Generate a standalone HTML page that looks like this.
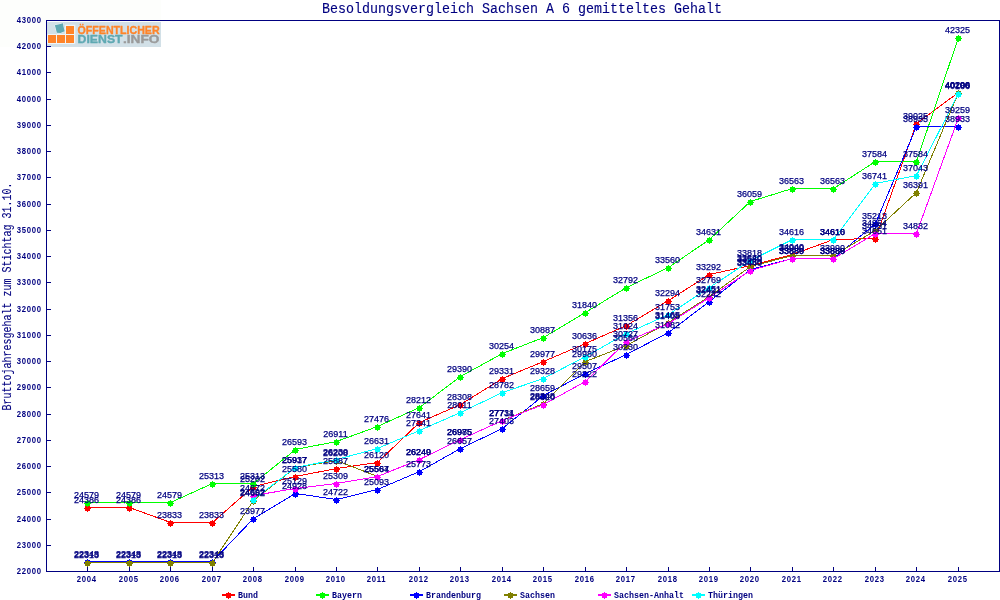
<!DOCTYPE html>
<html lang="de"><head><meta charset="utf-8"><title>Besoldungsvergleich Sachsen A 6 gemitteltes Gehalt</title>
<style>
html,body{margin:0;padding:0;background:#fff;}
body{width:1000px;height:600px;overflow:hidden;}
svg{display:block;}
.m{font-family:"Liberation Mono","DejaVu Sans Mono",monospace;fill:#000080;stroke:#000080;stroke-width:0.25px;}
.n{font-family:"Liberation Sans",sans-serif;fill:#000080;font-size:9px;stroke:#000080;stroke-width:0.25px;}
.nb{font-family:"Liberation Sans",sans-serif;fill:#000080;font-size:9px;font-weight:bold;}
.b{font-size:8.33px;font-weight:bold;stroke:none;}
.t{font-size:13.33px;stroke-width:0.1px;}
.y{font-size:10px;stroke-width:0.1px;}
.lg{font-family:"Liberation Sans",sans-serif;font-weight:bold;}
</style></head><body>
<svg width="1000" height="600" viewBox="0 0 1000 600">
<rect x="0" y="0" width="1000" height="600" fill="#ffffff"/>
<rect x="0" y="0" width="161" height="47" fill="#fdfefc"/>
<g id="logo">
<rect x="47" y="22" width="114" height="25" fill="#d2e0e7"/>
<path d="M47.5 34.5h27.2v-9.2h-9.2v9.2M47.5 43.5h27.2M56.5 34.5v9M65.5 34.5v9M47.6 34.5v9M74.6 25.5v18" fill="none" stroke="#eef5f8" stroke-width="1.2"/>
<rect x="48" y="35" width="8" height="8" fill="#ff8429"/>
<rect x="57" y="35" width="8" height="8" fill="#ff8429"/>
<rect x="66" y="35" width="8" height="8" fill="#ff8429"/>
<rect x="66" y="26" width="8" height="8" fill="#ff8429"/>
<path d="M54.8 25.3 L59.3 24.3 L62.9 23.2 L63.6 27 L64.7 31.2 L60.4 33 L56.8 32.8 L55.8 28.6 Z" fill="#5fa9b3" stroke="#f4f9fa" stroke-width="0.8" stroke-linejoin="round" paint-order="stroke"/>
<g class="lg" stroke-width="0.35" stroke-linejoin="round">
<text x="77.6" y="33.8" font-size="11.4" fill="#ff8429" stroke="#ff8429" textLength="82" lengthAdjust="spacingAndGlyphs">ÖFFENTLICHER</text>
<text x="77.6" y="42.8" font-size="10.8" fill="#5fa9b3" stroke="#5fa9b3" textLength="45" lengthAdjust="spacingAndGlyphs">DIENST</text>
<text x="123" y="42.8" font-size="10.8" fill="#9a9a9a" stroke="#9a9a9a" textLength="36.5" lengthAdjust="spacingAndGlyphs">.INFO</text>
</g>
</g>
<text class="m t" transform="translate(522,12.6) scale(1,1.12)" x="0" y="0" text-anchor="middle" textLength="400" lengthAdjust="spacing">Besoldungsvergleich Sachsen A 6 gemitteltes Gehalt</text>
<text class="m y" transform="translate(11,410.5) rotate(-90) scale(1,1.2)" textLength="228" lengthAdjust="spacing">Bruttojahresgehalt zum Stichtag 31.10.</text>
<g shape-rendering="crispEdges" fill="#000080">
<rect x="46" y="20" width="1" height="552"/>
<rect x="46" y="20" width="954" height="1"/>
<rect x="999" y="20" width="1" height="552"/>
<rect x="46" y="571" width="954" height="1"/>
<rect x="47" y="571" width="4" height="1"/>
<rect x="47" y="545" width="4" height="1"/>
<rect x="47" y="519" width="4" height="1"/>
<rect x="47" y="492" width="4" height="1"/>
<rect x="47" y="466" width="4" height="1"/>
<rect x="47" y="440" width="4" height="1"/>
<rect x="47" y="414" width="4" height="1"/>
<rect x="47" y="387" width="4" height="1"/>
<rect x="47" y="361" width="4" height="1"/>
<rect x="47" y="335" width="4" height="1"/>
<rect x="47" y="309" width="4" height="1"/>
<rect x="47" y="282" width="4" height="1"/>
<rect x="47" y="256" width="4" height="1"/>
<rect x="47" y="230" width="4" height="1"/>
<rect x="47" y="204" width="4" height="1"/>
<rect x="47" y="177" width="4" height="1"/>
<rect x="47" y="151" width="4" height="1"/>
<rect x="47" y="125" width="4" height="1"/>
<rect x="47" y="99" width="4" height="1"/>
<rect x="47" y="72" width="4" height="1"/>
<rect x="47" y="46" width="4" height="1"/>
<rect x="47" y="20" width="4" height="1"/>
<rect x="87" y="567" width="1" height="4"/>
<rect x="129" y="567" width="1" height="4"/>
<rect x="170" y="567" width="1" height="4"/>
<rect x="212" y="567" width="1" height="4"/>
<rect x="253" y="567" width="1" height="4"/>
<rect x="295" y="567" width="1" height="4"/>
<rect x="336" y="567" width="1" height="4"/>
<rect x="377" y="567" width="1" height="4"/>
<rect x="419" y="567" width="1" height="4"/>
<rect x="460" y="567" width="1" height="4"/>
<rect x="502" y="567" width="1" height="4"/>
<rect x="543" y="567" width="1" height="4"/>
<rect x="585" y="567" width="1" height="4"/>
<rect x="626" y="567" width="1" height="4"/>
<rect x="668" y="567" width="1" height="4"/>
<rect x="709" y="567" width="1" height="4"/>
<rect x="750" y="567" width="1" height="4"/>
<rect x="792" y="567" width="1" height="4"/>
<rect x="833" y="567" width="1" height="4"/>
<rect x="875" y="567" width="1" height="4"/>
<rect x="916" y="567" width="1" height="4"/>
<rect x="958" y="567" width="1" height="4"/>
</g>
<text class="nb" transform="translate(16.8,574) scale(0.86,1)" letter-spacing="0.81">22000</text>
<text class="nb" transform="translate(16.8,548) scale(0.86,1)" letter-spacing="0.81">23000</text>
<text class="nb" transform="translate(16.8,522) scale(0.86,1)" letter-spacing="0.81">24000</text>
<text class="nb" transform="translate(16.8,495) scale(0.86,1)" letter-spacing="0.81">25000</text>
<text class="nb" transform="translate(16.8,469) scale(0.86,1)" letter-spacing="0.81">26000</text>
<text class="nb" transform="translate(16.8,443) scale(0.86,1)" letter-spacing="0.81">27000</text>
<text class="nb" transform="translate(16.8,417) scale(0.86,1)" letter-spacing="0.81">28000</text>
<text class="nb" transform="translate(16.8,390) scale(0.86,1)" letter-spacing="0.81">29000</text>
<text class="nb" transform="translate(16.8,364) scale(0.86,1)" letter-spacing="0.81">30000</text>
<text class="nb" transform="translate(16.8,338) scale(0.86,1)" letter-spacing="0.81">31000</text>
<text class="nb" transform="translate(16.8,312) scale(0.86,1)" letter-spacing="0.81">32000</text>
<text class="nb" transform="translate(16.8,285) scale(0.86,1)" letter-spacing="0.81">33000</text>
<text class="nb" transform="translate(16.8,259) scale(0.86,1)" letter-spacing="0.81">34000</text>
<text class="nb" transform="translate(16.8,233) scale(0.86,1)" letter-spacing="0.81">35000</text>
<text class="nb" transform="translate(16.8,207) scale(0.86,1)" letter-spacing="0.81">36000</text>
<text class="nb" transform="translate(16.8,180) scale(0.86,1)" letter-spacing="0.81">37000</text>
<text class="nb" transform="translate(16.8,154) scale(0.86,1)" letter-spacing="0.81">38000</text>
<text class="nb" transform="translate(16.8,128) scale(0.86,1)" letter-spacing="0.81">39000</text>
<text class="nb" transform="translate(16.8,102) scale(0.86,1)" letter-spacing="0.81">40000</text>
<text class="nb" transform="translate(16.8,75) scale(0.86,1)" letter-spacing="0.81">41000</text>
<text class="nb" transform="translate(16.8,49) scale(0.86,1)" letter-spacing="0.81">42000</text>
<text class="nb" transform="translate(16.8,23) scale(0.86,1)" letter-spacing="0.81">43000</text>
<text class="nb" transform="translate(76.8,582) scale(0.86,1)" letter-spacing="0.81">2004</text>
<text class="nb" transform="translate(118.8,582) scale(0.86,1)" letter-spacing="0.81">2005</text>
<text class="nb" transform="translate(159.8,582) scale(0.86,1)" letter-spacing="0.81">2006</text>
<text class="nb" transform="translate(201.8,582) scale(0.86,1)" letter-spacing="0.81">2007</text>
<text class="nb" transform="translate(242.8,582) scale(0.86,1)" letter-spacing="0.81">2008</text>
<text class="nb" transform="translate(284.8,582) scale(0.86,1)" letter-spacing="0.81">2009</text>
<text class="nb" transform="translate(325.8,582) scale(0.86,1)" letter-spacing="0.81">2010</text>
<text class="nb" transform="translate(366.8,582) scale(0.86,1)" letter-spacing="0.81">2011</text>
<text class="nb" transform="translate(408.8,582) scale(0.86,1)" letter-spacing="0.81">2012</text>
<text class="nb" transform="translate(449.8,582) scale(0.86,1)" letter-spacing="0.81">2013</text>
<text class="nb" transform="translate(491.8,582) scale(0.86,1)" letter-spacing="0.81">2014</text>
<text class="nb" transform="translate(532.8,582) scale(0.86,1)" letter-spacing="0.81">2015</text>
<text class="nb" transform="translate(574.8,582) scale(0.86,1)" letter-spacing="0.81">2016</text>
<text class="nb" transform="translate(615.8,582) scale(0.86,1)" letter-spacing="0.81">2017</text>
<text class="nb" transform="translate(657.8,582) scale(0.86,1)" letter-spacing="0.81">2018</text>
<text class="nb" transform="translate(698.8,582) scale(0.86,1)" letter-spacing="0.81">2019</text>
<text class="nb" transform="translate(739.8,582) scale(0.86,1)" letter-spacing="0.81">2020</text>
<text class="nb" transform="translate(781.8,582) scale(0.86,1)" letter-spacing="0.81">2021</text>
<text class="nb" transform="translate(822.8,582) scale(0.86,1)" letter-spacing="0.81">2022</text>
<text class="nb" transform="translate(864.8,582) scale(0.86,1)" letter-spacing="0.81">2023</text>
<text class="nb" transform="translate(905.8,582) scale(0.86,1)" letter-spacing="0.81">2024</text>
<text class="nb" transform="translate(947.8,582) scale(0.86,1)" letter-spacing="0.81">2025</text>
<polyline fill="none" stroke="#ff0000" stroke-width="1" shape-rendering="crispEdges" points="87.5,507.5 129.5,507.5 170.5,522.5 212.5,522.5 253.5,486.5 295.5,476.5 336.5,468.5 377.5,462.5 419.5,422.5 460.5,404.5 502.5,378.5 543.5,361.5 585.5,343.5 626.5,325.5 668.5,300.5 709.5,274.5 750.5,265.5 792.5,254.5 833.5,239.5 875.5,238.5 916.5,123.5 958.5,92.5"/>
<g fill="#ff0000" shape-rendering="crispEdges">
<path d="M85 506h5v5h-5zM84 508h7v1h-7zM87 505h1v7h-1z"/>
<path d="M127 506h5v5h-5zM126 508h7v1h-7zM129 505h1v7h-1z"/>
<path d="M168 521h5v5h-5zM167 523h7v1h-7zM170 520h1v7h-1z"/>
<path d="M210 521h5v5h-5zM209 523h7v1h-7zM212 520h1v7h-1z"/>
<path d="M251 485h5v5h-5zM250 487h7v1h-7zM253 484h1v7h-1z"/>
<path d="M293 475h5v5h-5zM292 477h7v1h-7zM295 474h1v7h-1z"/>
<path d="M334 467h5v5h-5zM333 469h7v1h-7zM336 466h1v7h-1z"/>
<path d="M375 461h5v5h-5zM374 463h7v1h-7zM377 460h1v7h-1z"/>
<path d="M417 421h5v5h-5zM416 423h7v1h-7zM419 420h1v7h-1z"/>
<path d="M458 403h5v5h-5zM457 405h7v1h-7zM460 402h1v7h-1z"/>
<path d="M500 377h5v5h-5zM499 379h7v1h-7zM502 376h1v7h-1z"/>
<path d="M541 360h5v5h-5zM540 362h7v1h-7zM543 359h1v7h-1z"/>
<path d="M583 342h5v5h-5zM582 344h7v1h-7zM585 341h1v7h-1z"/>
<path d="M624 324h5v5h-5zM623 326h7v1h-7zM626 323h1v7h-1z"/>
<path d="M666 299h5v5h-5zM665 301h7v1h-7zM668 298h1v7h-1z"/>
<path d="M707 273h5v5h-5zM706 275h7v1h-7zM709 272h1v7h-1z"/>
<path d="M748 264h5v5h-5zM747 266h7v1h-7zM750 263h1v7h-1z"/>
<path d="M790 253h5v5h-5zM789 255h7v1h-7zM792 252h1v7h-1z"/>
<path d="M831 238h5v5h-5zM830 240h7v1h-7zM833 237h1v7h-1z"/>
<path d="M873 237h5v5h-5zM872 239h7v1h-7zM875 236h1v7h-1z"/>
<path d="M914 122h5v5h-5zM913 124h7v1h-7zM916 121h1v7h-1z"/>
<path d="M956 91h5v5h-5zM955 93h7v1h-7zM958 90h1v7h-1z"/>
</g>
<polyline fill="none" stroke="#00ff00" stroke-width="1" shape-rendering="crispEdges" points="87.5,502.5 129.5,502.5 170.5,502.5 212.5,483.5 253.5,483.5 295.5,449.5 336.5,441.5 377.5,426.5 419.5,407.5 460.5,376.5 502.5,353.5 543.5,337.5 585.5,312.5 626.5,287.5 668.5,267.5 709.5,239.5 750.5,201.5 792.5,188.5 833.5,188.5 875.5,161.5 916.5,161.5 958.5,37.5"/>
<g fill="#00ff00" shape-rendering="crispEdges">
<path d="M85 501h5v5h-5zM84 503h7v1h-7zM87 500h1v7h-1z"/>
<path d="M127 501h5v5h-5zM126 503h7v1h-7zM129 500h1v7h-1z"/>
<path d="M168 501h5v5h-5zM167 503h7v1h-7zM170 500h1v7h-1z"/>
<path d="M210 482h5v5h-5zM209 484h7v1h-7zM212 481h1v7h-1z"/>
<path d="M251 482h5v5h-5zM250 484h7v1h-7zM253 481h1v7h-1z"/>
<path d="M293 448h5v5h-5zM292 450h7v1h-7zM295 447h1v7h-1z"/>
<path d="M334 440h5v5h-5zM333 442h7v1h-7zM336 439h1v7h-1z"/>
<path d="M375 425h5v5h-5zM374 427h7v1h-7zM377 424h1v7h-1z"/>
<path d="M417 406h5v5h-5zM416 408h7v1h-7zM419 405h1v7h-1z"/>
<path d="M458 375h5v5h-5zM457 377h7v1h-7zM460 374h1v7h-1z"/>
<path d="M500 352h5v5h-5zM499 354h7v1h-7zM502 351h1v7h-1z"/>
<path d="M541 336h5v5h-5zM540 338h7v1h-7zM543 335h1v7h-1z"/>
<path d="M583 311h5v5h-5zM582 313h7v1h-7zM585 310h1v7h-1z"/>
<path d="M624 286h5v5h-5zM623 288h7v1h-7zM626 285h1v7h-1z"/>
<path d="M666 266h5v5h-5zM665 268h7v1h-7zM668 265h1v7h-1z"/>
<path d="M707 238h5v5h-5zM706 240h7v1h-7zM709 237h1v7h-1z"/>
<path d="M748 200h5v5h-5zM747 202h7v1h-7zM750 199h1v7h-1z"/>
<path d="M790 187h5v5h-5zM789 189h7v1h-7zM792 186h1v7h-1z"/>
<path d="M831 187h5v5h-5zM830 189h7v1h-7zM833 186h1v7h-1z"/>
<path d="M873 160h5v5h-5zM872 162h7v1h-7zM875 159h1v7h-1z"/>
<path d="M914 160h5v5h-5zM913 162h7v1h-7zM916 159h1v7h-1z"/>
<path d="M956 36h5v5h-5zM955 38h7v1h-7zM958 35h1v7h-1z"/>
</g>
<polyline fill="none" stroke="#0000ff" stroke-width="1" shape-rendering="crispEdges" points="87.5,561.5 129.5,561.5 170.5,561.5 212.5,561.5 253.5,518.5 295.5,493.5 336.5,499.5 377.5,489.5 419.5,471.5 460.5,448.5 502.5,428.5 543.5,395.5 585.5,373.5 626.5,354.5 668.5,332.5 709.5,301.5 750.5,269.5 792.5,258.5 833.5,258.5 875.5,223.5 916.5,126.5 958.5,126.5"/>
<g fill="#0000ff" shape-rendering="crispEdges">
<path d="M85 560h5v5h-5zM84 562h7v1h-7zM87 559h1v7h-1z"/>
<path d="M127 560h5v5h-5zM126 562h7v1h-7zM129 559h1v7h-1z"/>
<path d="M168 560h5v5h-5zM167 562h7v1h-7zM170 559h1v7h-1z"/>
<path d="M210 560h5v5h-5zM209 562h7v1h-7zM212 559h1v7h-1z"/>
<path d="M251 517h5v5h-5zM250 519h7v1h-7zM253 516h1v7h-1z"/>
<path d="M293 492h5v5h-5zM292 494h7v1h-7zM295 491h1v7h-1z"/>
<path d="M334 498h5v5h-5zM333 500h7v1h-7zM336 497h1v7h-1z"/>
<path d="M375 488h5v5h-5zM374 490h7v1h-7zM377 487h1v7h-1z"/>
<path d="M417 470h5v5h-5zM416 472h7v1h-7zM419 469h1v7h-1z"/>
<path d="M458 447h5v5h-5zM457 449h7v1h-7zM460 446h1v7h-1z"/>
<path d="M500 427h5v5h-5zM499 429h7v1h-7zM502 426h1v7h-1z"/>
<path d="M541 394h5v5h-5zM540 396h7v1h-7zM543 393h1v7h-1z"/>
<path d="M583 372h5v5h-5zM582 374h7v1h-7zM585 371h1v7h-1z"/>
<path d="M624 353h5v5h-5zM623 355h7v1h-7zM626 352h1v7h-1z"/>
<path d="M666 331h5v5h-5zM665 333h7v1h-7zM668 330h1v7h-1z"/>
<path d="M707 300h5v5h-5zM706 302h7v1h-7zM709 299h1v7h-1z"/>
<path d="M748 268h5v5h-5zM747 270h7v1h-7zM750 267h1v7h-1z"/>
<path d="M790 257h5v5h-5zM789 259h7v1h-7zM792 256h1v7h-1z"/>
<path d="M831 257h5v5h-5zM830 259h7v1h-7zM833 256h1v7h-1z"/>
<path d="M873 222h5v5h-5zM872 224h7v1h-7zM875 221h1v7h-1z"/>
<path d="M914 125h5v5h-5zM913 127h7v1h-7zM916 124h1v7h-1z"/>
<path d="M956 125h5v5h-5zM955 127h7v1h-7zM958 124h1v7h-1z"/>
</g>
<polyline fill="none" stroke="#808000" stroke-width="1" shape-rendering="crispEdges" points="87.5,562.5 129.5,562.5 170.5,562.5 212.5,562.5 253.5,500.5 295.5,467.5 336.5,460.5 377.5,476.5 419.5,459.5 460.5,439.5 502.5,420.5 543.5,403.5 585.5,361.5 626.5,345.5 668.5,322.5 709.5,296.5 750.5,266.5 792.5,255.5 833.5,255.5 875.5,230.5 916.5,192.5 958.5,92.5"/>
<g fill="#808000" shape-rendering="crispEdges">
<path d="M85 561h5v5h-5zM84 563h7v1h-7zM87 560h1v7h-1z"/>
<path d="M127 561h5v5h-5zM126 563h7v1h-7zM129 560h1v7h-1z"/>
<path d="M168 561h5v5h-5zM167 563h7v1h-7zM170 560h1v7h-1z"/>
<path d="M210 561h5v5h-5zM209 563h7v1h-7zM212 560h1v7h-1z"/>
<path d="M251 499h5v5h-5zM250 501h7v1h-7zM253 498h1v7h-1z"/>
<path d="M293 466h5v5h-5zM292 468h7v1h-7zM295 465h1v7h-1z"/>
<path d="M334 459h5v5h-5zM333 461h7v1h-7zM336 458h1v7h-1z"/>
<path d="M375 475h5v5h-5zM374 477h7v1h-7zM377 474h1v7h-1z"/>
<path d="M417 458h5v5h-5zM416 460h7v1h-7zM419 457h1v7h-1z"/>
<path d="M458 438h5v5h-5zM457 440h7v1h-7zM460 437h1v7h-1z"/>
<path d="M500 419h5v5h-5zM499 421h7v1h-7zM502 418h1v7h-1z"/>
<path d="M541 402h5v5h-5zM540 404h7v1h-7zM543 401h1v7h-1z"/>
<path d="M583 360h5v5h-5zM582 362h7v1h-7zM585 359h1v7h-1z"/>
<path d="M624 344h5v5h-5zM623 346h7v1h-7zM626 343h1v7h-1z"/>
<path d="M666 321h5v5h-5zM665 323h7v1h-7zM668 320h1v7h-1z"/>
<path d="M707 295h5v5h-5zM706 297h7v1h-7zM709 294h1v7h-1z"/>
<path d="M748 265h5v5h-5zM747 267h7v1h-7zM750 264h1v7h-1z"/>
<path d="M790 254h5v5h-5zM789 256h7v1h-7zM792 253h1v7h-1z"/>
<path d="M831 254h5v5h-5zM830 256h7v1h-7zM833 253h1v7h-1z"/>
<path d="M873 229h5v5h-5zM872 231h7v1h-7zM875 228h1v7h-1z"/>
<path d="M914 191h5v5h-5zM913 193h7v1h-7zM916 190h1v7h-1z"/>
<path d="M956 91h5v5h-5zM955 93h7v1h-7zM958 90h1v7h-1z"/>
</g>
<polyline fill="none" stroke="#ff00ff" stroke-width="1" shape-rendering="crispEdges" points="253.5,495.5 295.5,488.5 336.5,483.5 377.5,476.5 419.5,459.5 460.5,439.5 502.5,420.5 543.5,404.5 585.5,381.5 626.5,341.5 668.5,323.5 709.5,297.5 750.5,270.5 792.5,258.5 833.5,258.5 875.5,233.5 916.5,233.5 958.5,117.5"/>
<g fill="#ff00ff" shape-rendering="crispEdges">
<path d="M251 494h5v5h-5zM250 496h7v1h-7zM253 493h1v7h-1z"/>
<path d="M293 487h5v5h-5zM292 489h7v1h-7zM295 486h1v7h-1z"/>
<path d="M334 482h5v5h-5zM333 484h7v1h-7zM336 481h1v7h-1z"/>
<path d="M375 475h5v5h-5zM374 477h7v1h-7zM377 474h1v7h-1z"/>
<path d="M417 458h5v5h-5zM416 460h7v1h-7zM419 457h1v7h-1z"/>
<path d="M458 438h5v5h-5zM457 440h7v1h-7zM460 437h1v7h-1z"/>
<path d="M500 419h5v5h-5zM499 421h7v1h-7zM502 418h1v7h-1z"/>
<path d="M541 403h5v5h-5zM540 405h7v1h-7zM543 402h1v7h-1z"/>
<path d="M583 380h5v5h-5zM582 382h7v1h-7zM585 379h1v7h-1z"/>
<path d="M624 340h5v5h-5zM623 342h7v1h-7zM626 339h1v7h-1z"/>
<path d="M666 322h5v5h-5zM665 324h7v1h-7zM668 321h1v7h-1z"/>
<path d="M707 296h5v5h-5zM706 298h7v1h-7zM709 295h1v7h-1z"/>
<path d="M748 269h5v5h-5zM747 271h7v1h-7zM750 268h1v7h-1z"/>
<path d="M790 257h5v5h-5zM789 259h7v1h-7zM792 256h1v7h-1z"/>
<path d="M831 257h5v5h-5zM830 259h7v1h-7zM833 256h1v7h-1z"/>
<path d="M873 232h5v5h-5zM872 234h7v1h-7zM875 231h1v7h-1z"/>
<path d="M914 232h5v5h-5zM913 234h7v1h-7zM916 231h1v7h-1z"/>
<path d="M956 116h5v5h-5zM955 118h7v1h-7zM958 115h1v7h-1z"/>
</g>
<polyline fill="none" stroke="#00ffff" stroke-width="1" shape-rendering="crispEdges" points="253.5,499.5 295.5,467.5 336.5,459.5 377.5,448.5 419.5,430.5 460.5,412.5 502.5,392.5 543.5,378.5 585.5,356.5 626.5,333.5 668.5,314.5 709.5,287.5 750.5,260.5 792.5,239.5 833.5,239.5 875.5,183.5 916.5,175.5 958.5,93.5"/>
<g fill="#00ffff" shape-rendering="crispEdges">
<path d="M251 498h5v5h-5zM250 500h7v1h-7zM253 497h1v7h-1z"/>
<path d="M293 466h5v5h-5zM292 468h7v1h-7zM295 465h1v7h-1z"/>
<path d="M334 458h5v5h-5zM333 460h7v1h-7zM336 457h1v7h-1z"/>
<path d="M375 447h5v5h-5zM374 449h7v1h-7zM377 446h1v7h-1z"/>
<path d="M417 429h5v5h-5zM416 431h7v1h-7zM419 428h1v7h-1z"/>
<path d="M458 411h5v5h-5zM457 413h7v1h-7zM460 410h1v7h-1z"/>
<path d="M500 391h5v5h-5zM499 393h7v1h-7zM502 390h1v7h-1z"/>
<path d="M541 377h5v5h-5zM540 379h7v1h-7zM543 376h1v7h-1z"/>
<path d="M583 355h5v5h-5zM582 357h7v1h-7zM585 354h1v7h-1z"/>
<path d="M624 332h5v5h-5zM623 334h7v1h-7zM626 331h1v7h-1z"/>
<path d="M666 313h5v5h-5zM665 315h7v1h-7zM668 312h1v7h-1z"/>
<path d="M707 286h5v5h-5zM706 288h7v1h-7zM709 285h1v7h-1z"/>
<path d="M748 259h5v5h-5zM747 261h7v1h-7zM750 258h1v7h-1z"/>
<path d="M790 238h5v5h-5zM789 240h7v1h-7zM792 237h1v7h-1z"/>
<path d="M831 238h5v5h-5zM830 240h7v1h-7zM833 237h1v7h-1z"/>
<path d="M873 182h5v5h-5zM872 184h7v1h-7zM875 181h1v7h-1z"/>
<path d="M914 174h5v5h-5zM913 176h7v1h-7zM916 173h1v7h-1z"/>
<path d="M956 92h5v5h-5zM955 94h7v1h-7zM958 91h1v7h-1z"/>
</g>
<g class="n" text-anchor="middle">
<text x="86.5" y="503">24386</text>
<text x="128.5" y="503">24386</text>
<text x="169.5" y="518">23833</text>
<text x="211.5" y="518">23833</text>
<text x="252.5" y="482">25202</text>
<text x="294.5" y="472">25580</text>
<text x="335.5" y="464">25887</text>
<text x="376.5" y="458">26120</text>
<text x="418.5" y="418">27641</text>
<text x="459.5" y="400">28308</text>
<text x="501.5" y="374">29331</text>
<text x="542.5" y="357">29977</text>
<text x="584.5" y="339">30636</text>
<text x="625.5" y="321">31356</text>
<text x="667.5" y="296">32294</text>
<text x="708.5" y="270">33292</text>
<text x="749.5" y="261">33640</text>
<text x="791.5" y="250">34040</text>
<text x="832.5" y="235">34616</text>
<text x="874.5" y="234">34651</text>
<text x="915.5" y="119">39025</text>
<text x="957.5" y="88">40206</text>
</g>
<g class="n" text-anchor="middle">
<text x="86.5" y="498">24579</text>
<text x="128.5" y="498">24579</text>
<text x="169.5" y="498">24579</text>
<text x="211.5" y="479">25313</text>
<text x="252.5" y="479">25313</text>
<text x="294.5" y="445">26593</text>
<text x="335.5" y="437">26911</text>
<text x="376.5" y="422">27476</text>
<text x="418.5" y="403">28212</text>
<text x="459.5" y="372">29390</text>
<text x="501.5" y="349">30254</text>
<text x="542.5" y="333">30887</text>
<text x="584.5" y="308">31840</text>
<text x="625.5" y="283">32792</text>
<text x="667.5" y="263">33560</text>
<text x="708.5" y="235">34631</text>
<text x="749.5" y="197">36059</text>
<text x="791.5" y="184">36563</text>
<text x="832.5" y="184">36563</text>
<text x="874.5" y="157">37584</text>
<text x="915.5" y="157">37584</text>
<text x="957.5" y="33">42325</text>
</g>
<g class="n" text-anchor="middle">
<text x="86.5" y="557">22348</text>
<text x="128.5" y="557">22348</text>
<text x="169.5" y="557">22348</text>
<text x="211.5" y="557">22348</text>
<text x="252.5" y="514">23977</text>
<text x="294.5" y="489">24928</text>
<text x="335.5" y="495">24722</text>
<text x="376.5" y="485">25093</text>
<text x="418.5" y="467">25773</text>
<text x="459.5" y="444">26657</text>
<text x="501.5" y="424">27403</text>
<text x="542.5" y="391">28659</text>
<text x="584.5" y="369">29507</text>
<text x="625.5" y="350">30230</text>
<text x="667.5" y="328">31082</text>
<text x="708.5" y="297">32242</text>
<text x="749.5" y="265">33460</text>
<text x="791.5" y="254">33889</text>
<text x="832.5" y="254">33889</text>
<text x="874.5" y="219">35213</text>
<text x="915.5" y="122">38935</text>
<text x="957.5" y="122">38933</text>
</g>
<g class="n" text-anchor="middle">
<text x="86.5" y="558">22313</text>
<text x="128.5" y="558">22313</text>
<text x="169.5" y="558">22313</text>
<text x="211.5" y="558">22313</text>
<text x="252.5" y="496">24662</text>
<text x="294.5" y="463">25937</text>
<text x="335.5" y="456">26208</text>
<text x="376.5" y="472">25564</text>
<text x="418.5" y="455">26249</text>
<text x="459.5" y="435">26985</text>
<text x="501.5" y="416">27734</text>
<text x="542.5" y="399">28348</text>
<text x="584.5" y="357">29980</text>
<text x="625.5" y="341">30560</text>
<text x="667.5" y="318">31465</text>
<text x="708.5" y="292">32451</text>
<text x="749.5" y="262">33580</text>
<text x="791.5" y="251">33990</text>
<text x="832.5" y="251">33990</text>
<text x="874.5" y="226">34954</text>
<text x="915.5" y="188">36391</text>
<text x="957.5" y="88">40200</text>
</g>
<g class="n" text-anchor="middle">
<text x="252.5" y="491">24872</text>
<text x="294.5" y="484">25129</text>
<text x="335.5" y="479">25309</text>
<text x="376.5" y="472">25567</text>
<text x="418.5" y="455">26240</text>
<text x="459.5" y="435">26975</text>
<text x="501.5" y="416">27711</text>
<text x="542.5" y="400">28320</text>
<text x="584.5" y="377">29222</text>
<text x="625.5" y="337">30727</text>
<text x="667.5" y="319">31408</text>
<text x="708.5" y="293">32421</text>
<text x="749.5" y="266">33440</text>
<text x="791.5" y="254">33880</text>
<text x="832.5" y="254">33880</text>
<text x="874.5" y="229">34851</text>
<text x="915.5" y="229">34832</text>
<text x="957.5" y="113">39259</text>
</g>
<g class="n" text-anchor="middle">
<text x="252.5" y="495">24692</text>
<text x="294.5" y="463">25917</text>
<text x="335.5" y="455">26230</text>
<text x="376.5" y="444">26631</text>
<text x="418.5" y="426">27341</text>
<text x="459.5" y="408">28011</text>
<text x="501.5" y="388">28782</text>
<text x="542.5" y="374">29328</text>
<text x="584.5" y="352">30175</text>
<text x="625.5" y="329">31024</text>
<text x="667.5" y="310">31753</text>
<text x="708.5" y="283">32769</text>
<text x="749.5" y="256">33818</text>
<text x="791.5" y="235">34616</text>
<text x="832.5" y="235">34610</text>
<text x="874.5" y="179">36741</text>
<text x="915.5" y="171">37043</text>
<text x="957.5" y="89">40186</text>
</g>
<path fill="#ff0000" shape-rendering="crispEdges" d="M222 594h13v2h-13zM226 593h5v5h-5zM228 592h1v7h-1z"/>
<text class="m b" transform="translate(238,598) scale(1,1.05)">Bund</text>
<path fill="#00ff00" shape-rendering="crispEdges" d="M316 594h13v2h-13zM320 593h5v5h-5zM322 592h1v7h-1z"/>
<text class="m b" transform="translate(332,598) scale(1,1.05)">Bayern</text>
<path fill="#0000ff" shape-rendering="crispEdges" d="M410 594h13v2h-13zM414 593h5v5h-5zM416 592h1v7h-1z"/>
<text class="m b" transform="translate(426,598) scale(1,1.05)">Brandenburg</text>
<path fill="#808000" shape-rendering="crispEdges" d="M504 594h13v2h-13zM508 593h5v5h-5zM510 592h1v7h-1z"/>
<text class="m b" transform="translate(520,598) scale(1,1.05)">Sachsen</text>
<path fill="#ff00ff" shape-rendering="crispEdges" d="M598 594h13v2h-13zM602 593h5v5h-5zM604 592h1v7h-1z"/>
<text class="m b" transform="translate(614,598) scale(1,1.05)">Sachsen-Anhalt</text>
<path fill="#00ffff" shape-rendering="crispEdges" d="M692 594h13v2h-13zM696 593h5v5h-5zM698 592h1v7h-1z"/>
<text class="m b" transform="translate(708,598) scale(1,1.05)">Thüringen</text>
</svg>
</body></html>
